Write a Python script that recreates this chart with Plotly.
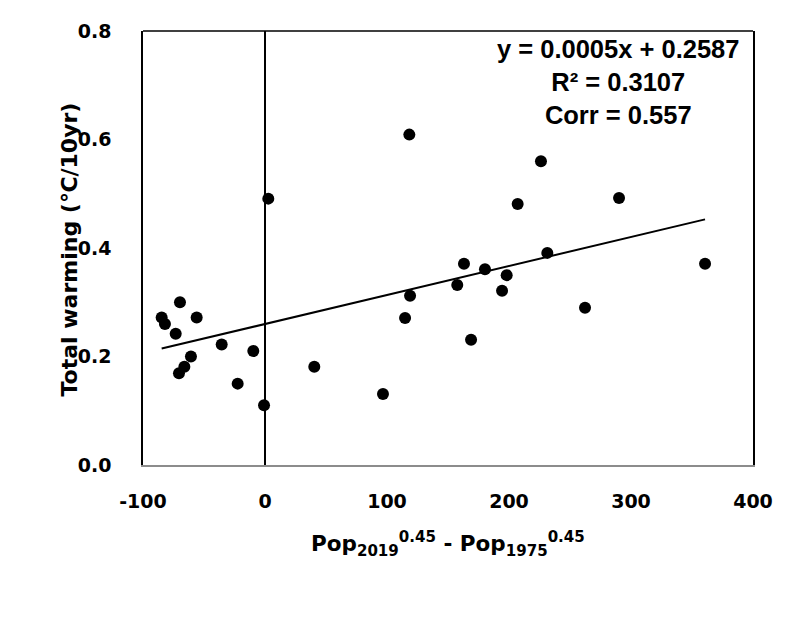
import numpy as np
import plotly.graph_objects as go

# population change index (x) vs total warming trend (y)
pop_change = [-84.7, -82.0, -73.2, -69.7, -56.0, -70.5, -66.1, -60.7, -35.5, -22.4,
              -9.6, -0.8, 2.7, 40.4, 96.7, 118.3, 114.8, 118.9, 168.9, 157.6,
              163.1, 180.3, 194.3, 198.1, 207.1, 226.2, 231.4, 262.3, 290.2, 360.7]
total_warming = [0.272, 0.260, 0.242, 0.300, 0.272, 0.169, 0.181, 0.200, 0.222, 0.150,
                 0.210, 0.110, 0.491, 0.181, 0.131, 0.609, 0.271, 0.312, 0.231, 0.332,
                 0.371, 0.361, 0.321, 0.350, 0.481, 0.560, 0.391, 0.290, 0.492, 0.371]

x_ticks = [-100, 0, 100, 200, 300, 400]
y_ticks = [0.0, 0.2, 0.4, 0.6, 0.8]

stats_lines = ["y = 0.0005x + 0.2587", "R² = 0.3107", "Corr = 0.557"]

# linear trend from the points
slope, intercept = np.polyfit(pop_change, total_warming, 1)
trend_x = np.array([min(pop_change), max(pop_change)])
trend_y = slope * trend_x + intercept

fig = go.Figure()

fig.add_trace(go.Scatter(
    x=pop_change, y=total_warming, mode="markers",
    marker=dict(color="black", size=12),
    showlegend=False,
))

fig.add_trace(go.Scatter(
    x=trend_x, y=trend_y, mode="lines",
    line=dict(color="black", width=2),
    showlegend=False,
))

# vertical reference line at x = 0
fig.add_shape(type="line", x0=0, x1=0, y0=0, y1=0.8, xref="x", yref="y",
              line=dict(color="black", width=2))
# top frame line
fig.add_shape(type="line", x0=0, x1=1, y0=1, y1=1, xref="paper", yref="paper",
              line=dict(color="black", width=1.5))

tick_font = dict(family="DejaVu Sans", size=19, color="black", weight="bold")

fig.update_xaxes(
    range=[-100, 400], tickvals=x_ticks, ticktext=[str(v) for v in x_ticks],
    showgrid=False, zeroline=False, showline=True, linecolor="#8c8c8c", linewidth=1.5,
    ticks="", tickfont=tick_font, ticklabelstandoff=18,
)
fig.update_yaxes(
    range=[0, 0.8], tickvals=y_ticks, ticktext=[f"{v:.1f}" for v in y_ticks],
    showgrid=False, zeroline=False, showline=True, mirror=True,
    linecolor="black", linewidth=1.5,
    ticks="", tickfont=tick_font, ticklabelstandoff=26,
)

fig.add_annotation(
    text="<br>".join(stats_lines), xref="paper", yref="paper",
    x=0.779, y=0.995, xanchor="center", yanchor="top", showarrow=False,
    align="center",
    font=dict(family="Liberation Sans", size=25.5, color="black", weight="bold"),
)

# axis titles
fig.add_annotation(
    text="Total warming (℃/10yr)", xref="paper", yref="paper",
    x=-0.121, y=0.497, xanchor="center", yanchor="middle", textangle=-90,
    showarrow=False,
    font=dict(family="DejaVu Sans", size=22, color="black", weight="bold"),
)
fig.add_annotation(
    text="Pop<sub>2019</sub><sup>0.45</sup> - Pop<sub>1975</sub><sup>0.45</sup>",
    xref="paper", yref="paper", x=0.5, y=-0.183, xanchor="center", yanchor="middle",
    showarrow=False,
    font=dict(family="DejaVu Sans", size=21.5, color="black", weight="bold"),
)

# page body adds an 8px offset, so margins are shifted to compensate
fig.update_layout(
    width=800, height=620,
    margin=dict(l=135, r=55, t=19, b=163),
    plot_bgcolor="white", paper_bgcolor="white",
)

fig.write_html("out.html")
